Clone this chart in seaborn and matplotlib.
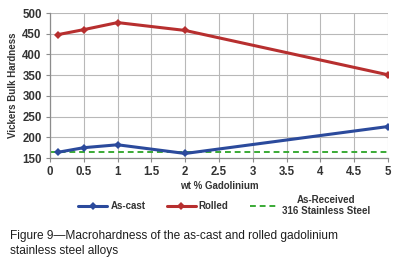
import matplotlib
matplotlib.use("Agg")
import matplotlib.pyplot as plt
import seaborn as sns
import pandas as pd
from matplotlib.lines import Line2D

gd_wt = [0.12, 0.5, 1.0, 2.0, 5.0]
as_cast = [164, 175, 182, 161, 226]
rolled = [448, 460, 477, 458, 351]
as_received = 164
x_ticks = [0, 0.5, 1, 1.5, 2, 2.5, 3, 3.5, 4, 4.5, 5]
x_tick_labels = ["0", "0.5", "1", "1.5", "2", "2.5", "3", "3.5", "4", "4.5", "5"]
y_ticks = [150, 200, 250, 300, 350, 400, 450, 500]

df = pd.DataFrame({
    "x": gd_wt * 2,
    "y": as_cast + rolled,
    "series": ["As-cast"] * len(gd_wt) + ["Rolled"] * len(gd_wt),
})

sns.set_style("white")
plt.rcParams["font.family"] = ["Liberation Sans", "DejaVu Sans"]

fig = plt.figure(figsize=(3.97, 2.72), dpi=100)
ax = fig.add_axes([0.126, 0.419, 0.851, 0.533])

palette = {"As-cast": "#2b4a9c", "Rolled": "#b72f2f"}
sns.lineplot(data=df, x="x", y="y", hue="series", palette=palette, ax=ax,
             marker="D", markersize=4.5, markeredgewidth=0, linewidth=2.2,
             legend=False)
ax.axhline(as_received, color="#3aaa35", linestyle=(0, (3, 2)), linewidth=1.4, zorder=1)

ax.set_xlim(0, 5)
ax.set_ylim(150, 500)
ax.set_xticks(x_ticks)
ax.set_xticklabels(x_tick_labels)
ax.set_yticks(y_ticks)
ax.grid(True, color="#b8b8b8", linewidth=0.8)
for s in ["top", "right"]:
    ax.spines[s].set_visible(False)
for s in ["left", "bottom"]:
    ax.spines[s].set_color("#8c8c8c")
    ax.spines[s].set_linewidth(0.9)
ax.tick_params(axis="both", which="both", length=3, width=0.8, color="#8c8c8c",
               labelsize=8.3, labelcolor="#333333", pad=3, direction="out",
               left=True, bottom=True)
for lab in ax.get_xticklabels() + ax.get_yticklabels():
    lab.set_fontweight("bold")
ax.set_xlabel("wt % Gadolinium", fontsize=7, fontweight="bold", color="#333333", labelpad=2)
ax.set_ylabel("Vickers Bulk Hardness", fontsize=7, fontweight="bold", color="#333333", labelpad=3)

handles = [
    Line2D([], [], color=palette["As-cast"], marker="D", markersize=4.5, markeredgewidth=0, linewidth=2.2),
    Line2D([], [], color=palette["Rolled"], marker="D", markersize=4.5, markeredgewidth=0, linewidth=2.2),
    Line2D([], [], color="#3aaa35", linestyle=(0, (3, 2)), linewidth=1.4),
]
labels = ["As-cast", "Rolled", "As-Received\n316 Stainless Steel"]
leg = fig.legend(handles, labels, loc="center", bbox_to_anchor=(0.565, 0.245), ncol=3,
                 frameon=False, fontsize=7, handlelength=3.0, columnspacing=2.2,
                 handletextpad=0.3)
for t in leg.get_texts():
    t.set_color("#333333")
    t.set_fontweight("bold")
    t.set_multialignment("center")

fig.text(0.025, 0.105, "Figure 9\u2014Macrohardness of the as-cast and rolled gadolinium\nstainless steel alloys",
         fontsize=8.6, color="#1e1e1e", ha="left", va="center", linespacing=1.3)

fig.savefig("out.png", dpi=100, facecolor="white")
